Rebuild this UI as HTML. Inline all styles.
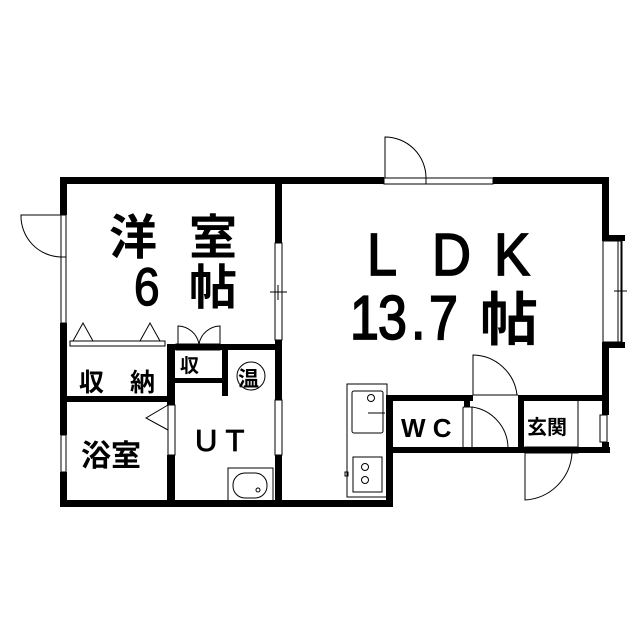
<!DOCTYPE html>
<html><head><meta charset="utf-8"><style>
html,body{margin:0;padding:0;background:#fff}
svg{display:block}
text{font-family:"Liberation Sans","Noto Sans CJK JP",sans-serif;fill:#000}
</style></head><body>
<svg width="639" height="640" viewBox="0 0 639 640" xmlns="http://www.w3.org/2000/svg">
<g fill="#000">
<rect x="60" y="177" width="324" height="7"/>
<rect x="493" y="177" width="116" height="7"/>
<rect x="60" y="177" width="7" height="38"/>
<rect x="60" y="323" width="7" height="112"/>
<rect x="60" y="472" width="7" height="35"/>
<rect x="60" y="500" width="332" height="7"/>
<rect x="275" y="177" width="7" height="66"/>
<rect x="275" y="340" width="7" height="60"/>
<rect x="275" y="455" width="7" height="50"/>
<rect x="167" y="344" width="115" height="6"/>
<rect x="60" y="396" width="115" height="6"/>
<rect x="167" y="344" width="8" height="61"/>
<rect x="167" y="455" width="8" height="50"/>
<rect x="175" y="378" width="52" height="5"/>
<rect x="222" y="344" width="6" height="52"/>
<rect x="602" y="177" width="7" height="63"/>
<rect x="602" y="235" width="23" height="6"/>
<rect x="602" y="342" width="23" height="6"/>
<rect x="602" y="342" width="7" height="73"/>
<rect x="602" y="442" width="7" height="11"/>
<rect x="387" y="395" width="86" height="6"/>
<rect x="518" y="395" width="91" height="6"/>
<rect x="387" y="447" width="223" height="6"/>
<rect x="386" y="395" width="7" height="112"/>
<rect x="518" y="395" width="6" height="58"/>
<rect x="464" y="401" width="6" height="6"/>
</g>
<g fill="none" stroke="#000" stroke-width="1">
<rect x="384" y="178" width="42" height="6"/>
<rect x="426" y="178" width="67" height="6"/>
<path d="M385 178 V137 A41 41 0 0 1 426 178"/>
<rect x="61" y="215" width="5" height="42"/>
<rect x="61" y="257" width="5" height="66"/>
<path d="M61 215 H21 A41 41 0 0 0 61 257"/>
<rect x="275" y="243" width="7" height="97"/>
<line x1="270" y1="292" x2="287" y2="292"/>
<line x1="278" y1="285" x2="278" y2="300"/>
<rect x="70" y="341" width="95" height="5"/>
<path d="M73 341 L83 323 L93 341 M140 341 L150 323 L160 341"/>
<path d="M178 344 V326 A22 22 0 0 1 199 344 M220 344 V326 A22 22 0 0 0 199 344"/>
<rect x="176" y="344" width="44" height="6"/>
<rect x="275" y="400" width="7" height="55"/>
<rect x="168" y="405" width="7" height="50"/>
<path d="M168 405 L146 418 L168 430"/>
<rect x="61" y="435" width="5" height="37"/>
<circle cx="251" cy="376" r="14"/>
<rect x="228" y="468" width="45" height="33"/>
<rect x="233" y="473" width="34" height="25" rx="12"/>
<circle cx="258" cy="490" r="2"/>
<rect x="603" y="241" width="18" height="101"/>
<rect x="618" y="241" width="4" height="101"/>
<line x1="614" y1="291" x2="627" y2="291"/>
<rect x="347" y="384" width="40" height="113"/>
<rect x="352" y="391" width="31" height="42" rx="2"/>
<circle cx="371" cy="398" r="3.5"/>
<line x1="368" y1="413" x2="385" y2="413"/>
<rect x="353" y="457" width="29" height="35"/>
<circle cx="365" cy="467" r="3.5"/>
<circle cx="365" cy="480" r="3.5"/>
<rect x="345" y="472" width="3" height="4"/>
<path d="M473 395 V355 A45 45 0 0 1 517 395"/>
<line x1="473" y1="395" x2="518" y2="395"/>
<rect x="463" y="407" width="9" height="43" rx="1"/>
<path d="M472 407 A42 42 0 0 1 508 447"/>
<line x1="578" y1="401" x2="578" y2="447"/>
<rect x="600" y="415" width="7" height="27"/>
<rect x="525" y="447" width="53" height="6"/>
<path d="M525 453 V500 A50 50 0 0 0 572 453"/>
</g>
<g font-size="48" font-weight="bold">
<text x="109" y="254">洋</text>
<text x="189" y="254">室</text>
<text x="189" y="304">帖</text>
</g>
<text x="134" y="305" font-size="46" stroke="#000" stroke-width="1.2" transform="translate(134 305) scale(1 1.15) translate(-134 -305)">6</text>
<g font-size="54" stroke="#000" stroke-width="1.5" transform="translate(0 275) scale(1 1.1) translate(0 -275)">
<text x="367" y="275">L</text>
<text x="432" y="275">D</text>
<text x="494" y="275">K</text>
</g>
<g font-size="52" stroke="#000" stroke-width="1.5" transform="translate(0 339) scale(1 1.2) translate(0 -339)">
<text x="350" y="339">1</text>
<text x="378" y="339">3</text>
<text x="411" y="339">.</text>
<text x="429" y="339">7</text>
</g>
<text x="480" y="340" font-size="58" font-weight="bold">帖</text>
<g font-weight="bold">
<text x="79" y="391" font-size="25">収</text><text x="130" y="391" font-size="25">納</text>
<text x="180" y="372" font-size="19">収</text>
<text x="238" y="386" font-size="21">温</text>
<text x="81" y="466" font-size="30">浴室</text>
<text x="195" y="451" font-size="31" font-weight="normal" stroke="#000" stroke-width="0.8">U T</text>
<text x="401" y="437" font-size="26">W C</text>
<text x="527" y="434" font-size="20">玄関</text>
</g>
</svg>
</body></html>
